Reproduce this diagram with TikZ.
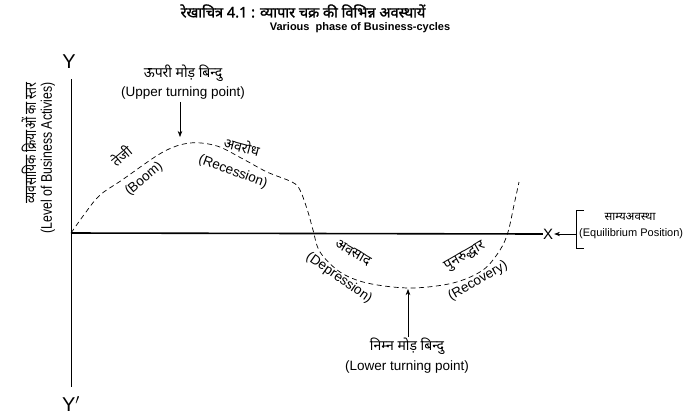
\documentclass[tikz,border=0pt]{standalone}
\usepackage{graphicx}
\usepackage{fontspec}
\setmainfont{Liberation Sans}
\newfontfamily\hindi[Script=Devanagari]{Noto Sans}
\newfontfamily\hindibf[Script=Devanagari, FakeBold=1.5]{Noto Sans}
\usetikzlibrary{arrows.meta}

\begin{document}
\begin{tikzpicture}[x=1pt, y=-1pt, >=Stealth,
    lbl/.style={font=\fontsize{13.5}{15}\selectfont, inner sep=0.5pt},
    hlbl/.style={font=\hindi\fontsize{14}{16}\selectfont, inner sep=0.5pt},
    cycle line/.style={dash pattern=on 5pt off 3.5pt, line width=0.7pt}]

    \useasboundingbox (0,0) rectangle (684,416);

    % headings
    \node[font=\hindibf\fontsize{14.5}{16}\selectfont] (title) at (303,11) {रेखाचित्र 4.1 : व्यापार चक्र की विभिन्न अवस्थायें};
    \node[font=\bfseries\fontsize{11}{13}\selectfont] (subtitle) at (360,28) {Various\ \ phase of Business-cycles};

    % axes
    \coordinate (O) at (71,233);
    \node[font=\fontsize{20}{22}\selectfont, inner sep=0pt] (Y) at (69,62) {Y};
    \node[font=\fontsize{20}{22}\selectfont, inner sep=0pt] (Yp) at (71,404) {Y$'$};
    \node[font=\fontsize{15}{17}\selectfont, inner sep=0pt] (X) at (548,234) {X};
    \draw[line width=0.8pt] (71,79) -- (71,387);
    \draw[line width=1.6pt] (O) -- (X.west);

    \node[hlbl, font=\hindi\fontsize{12}{14}\selectfont, rotate=90, anchor=east] (ylabh) at (29,82) {\scalebox{1}[1.35]{व्यवसायिक क्रियाओं का स्तर}};
    \node[lbl, font=\fontsize{12.3}{14}\selectfont, rotate=90, anchor=east] (ylabe) at (48,82) {\scalebox{1}[1.25]{(Level of Business Activies)}};

    % business cycle
    \draw[cycle line] plot[smooth, tension=0.55] coordinates {
        (71,233) (86,212) (100,195) (122,180) (163,152) (190,143)
        (217,146) (243,159) (267,172) (292,182) (300,190)
        (308,212) (313,230) (320,252) (340,272) (367,283) (410,288)
        (453,283) (483,270) (500,250) (508,232) (514,205) (519,182)};

    % turning points
    \node[hlbl] (utph) at (183,73) {ऊपरी मोड़ बिन्दु};
    \node[lbl] (utp) at (183,93) {(Upper turning point)};
    \coordinate (peak) at (180,137);
    \draw[->, line width=0.7pt] (utp.south -| peak) ++(0,2) -- (peak);

    \node[hlbl] (ltph) at (407,346) {निम्न मोड़ बिन्दु};
    \node[lbl] (ltp) at (407,367) {(Lower turning point)};
    \coordinate (trough) at (408,289);
    \draw[->, line width=0.7pt] (ltph.north -| trough) -- (trough);

    % phases
    \node[hlbl, rotate=40] (boomh) at (121,156) {तेजी};
    \node[lbl, rotate=40] (boom) at (144,179) {(Boom)};
    \node[hlbl, rotate=-15] (rech) at (242,146) {अवरोध};
    \node[lbl, rotate=-20] (rec) at (233,172) {(Recession)};
    \node[hlbl, rotate=-30] (deph) at (353,253) {अवसाद};
    \node[lbl, rotate=-35] (dep) at (339,278) {(Depression)};
    \node[hlbl, rotate=30] (rcvh) at (465,257) {पुनरुद्धार};
    \node[lbl, rotate=30] (rcv) at (478,281) {(Recovery)};

    % equilibrium
    \node[hlbl, font=\hindi\fontsize{11.5}{13}\selectfont] (eqh) at (630,217) {साम्यअवस्था};
    \node[lbl, font=\fontsize{11}{12}\selectfont, inner sep=0pt, anchor=west] (eq) at (579,234) {(Equilibrium Position)};
    \coordinate (bt) at (576,210);
    \coordinate (bb) at (576,248);
    \draw[line width=0.6pt] ([xshift=8pt]bt) -- (bt) -- (bb) -- ([xshift=8pt]bb);
    \draw[->, line width=0.6pt] (bt |- X) -- ([xshift=1pt]X.east);

\end{tikzpicture}
\end{document}
